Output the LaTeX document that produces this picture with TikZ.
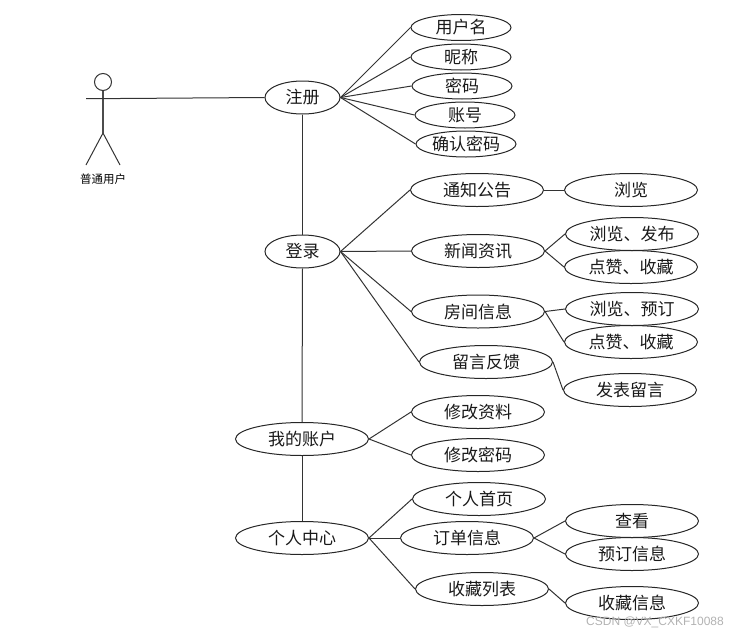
\documentclass[tikz,border=0pt]{standalone}
\usepackage{fontspec}
\setmainfont{Noto Sans CJK SC}
\setsansfont{Liberation Sans}
\usetikzlibrary{shapes.geometric}
\tikzset{
  uc/.style={draw=black!85,line width=1pt,ellipse,inner sep=0pt,minimum width=133pt,minimum height=33pt,
    font=\fontsize{17}{17}\selectfont,text=black!90},
  ucs/.style={uc,minimum width=100pt,minimum height=26pt},
  ucm/.style={uc,minimum width=75pt},
  link/.style={draw=black!80,line width=1pt},
  stick/.style={draw=black!70,line width=1.2pt},
}
\begin{document}
\begin{tikzpicture}[x=1pt,y=-1pt]
\useasboundingbox (0,0) rectangle (742,635);
% use cases
\node[ucm] (reg) at (302.5,97.5) {注册};
\node[ucm] (login) at (302.5,251.5) {登录};
\node[uc] (acct) at (302,439) {我的账户};
\node[uc] (center) at (302,538) {个人中心};
\node[ucs] (uname) at (461,27.5) {用户名};
\node[ucs] (nick) at (461,57) {昵称};
\node[ucs] (pwd) at (462,86) {密码};
\node[ucs] (acc) at (465,115) {账号};
\node[ucs] (cfm) at (466,144) {确认密码};
\node[uc] (notice) at (477,190) {通知公告};
\node[uc] (nbrowse) at (631,190) {浏览};
\node[uc] (news) at (478,251) {新闻资讯};
\node[uc] (npub) at (632,234) {浏览、发布};
\node[uc] (nlike) at (631,267) {点赞、收藏};
\node[uc] (room) at (478,311.5) {房间信息};
\node[uc] (rbook) at (632,309) {浏览、预订};
\node[uc] (rlike) at (631,342) {点赞、收藏};
\node[uc] (msg) at (486,362) {留言反馈};
\node[uc] (post) at (630,390) {发表留言};
\node[uc] (edit) at (478,412) {修改资料};
\node[uc] (chg) at (478,455) {修改密码};
\node[uc] (home) at (479,499) {个人首页};
\node[uc] (order) at (467,538) {订单信息};
\node[uc] (view) at (632,521) {查看};
\node[uc] (bookinfo) at (632,554) {预订信息};
\node[uc] (fav) at (482,589) {收藏列表};
\node[uc] (favinfo) at (632,603) {收藏信息};
% actor
\node[draw=black!80,line width=1pt,circle,inner sep=0pt,minimum size=17pt] (head) at (103,82) {};
\coordinate (hip) at (103,133);
\coordinate (armL) at (86,98.5);
\coordinate (armR) at (120,98.5);
\coordinate (footL) at (86,165);
\coordinate (footR) at (120,165);
\node[font=\fontsize{11.5}{11.5}\selectfont,inner sep=0pt] (actor) at (103,179) {普通用户};
\draw[stick] (head.south) -- (hip);
\draw[link] (hip) -- (footL);
\draw[link] (hip) -- (footR);
\draw[link] (armL) -- (armR) -- (reg.west);
% connectors
\draw[link] (reg.south) -- (login.north);
\draw[link] (login.south) -- (acct.north);
\draw[link] (acct.south) -- (center.north);
\foreach \t in {uname,nick,pwd,acc,cfm} \draw[link] (reg.east) -- (\t.west);
\foreach \t in {notice,news,room,msg} \draw[link] (login.east) -- (\t.west);
\draw[link] (notice.east) -- (nbrowse.west);
\draw[link] (news.east) -- (npub.west);
\draw[link] (news.east) -- (nlike.west);
\draw[link] (room.east) -- (rbook.west);
\draw[link] (room.east) -- (rlike.west);
\draw[link] (msg.east) -- (post.west);
\draw[link] (acct.east) -- (edit.west);
\draw[link] (acct.east) -- (chg.west);
\draw[link] (center.east) -- (home.west);
\draw[link] (center.east) -- (order.west);
\draw[link] (center.east) -- (fav.west);
\draw[link] (order.east) -- (view.west);
\draw[link] (order.east) -- (bookinfo.west);
\draw[link] (fav.east) -- (favinfo.west);
% watermark
\node[font=\sffamily\fontsize{12}{12}\selectfont,text=black!30,inner sep=0pt,anchor=east] (mark) at (724,622) {CSDN @VX\_CXKF10088};
\end{tikzpicture}
\end{document}
